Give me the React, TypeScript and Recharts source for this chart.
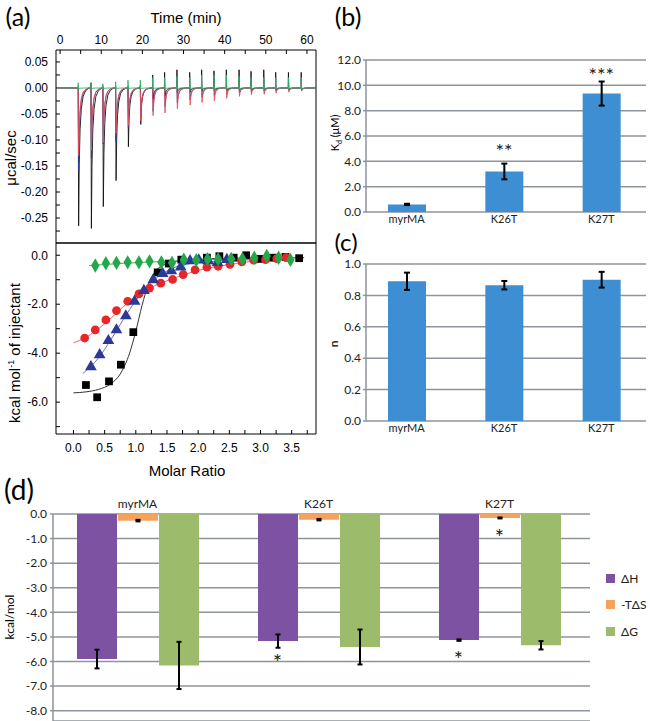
import React from 'react';
import {
  LineChart, Line, ComposedChart, Scatter, Bar, ErrorBar, XAxis, YAxis, ZAxis,
  CartesianGrid, Legend,
} from 'recharts';

// ---------- (a) top: raw ITC thermograms ----------
const injTimes = [4.4, 7.5, 10.4, 13.5, 16.5, 19.5, 22.5, 25.4, 28.4, 31.5, 34.4, 37.4, 40.4, 43.5, 46.4, 49.5, 52.4, 55.5, 58.6];
const myrUp = [0.003, 0.01, 0.003, 0.003, 0.003, 0.005, 0.025, 0.03, 0.035, 0.03, 0.035, 0.033, 0.035, 0.035, 0.032, 0.035, 0.03, 0.03, 0.03];
const myrDip = [-0.265, -0.27, -0.228, -0.178, -0.113, -0.07, -0.022, -0.015, -0.01, -0.008, -0.006, -0.005, -0.005, -0.004, -0.004, -0.003, -0.003, -0.003, -0.003];
const k26Up = [0.002, 0.002, 0.002, 0.002, 0.002, 0.002, 0.002, 0.002, 0.002, 0.002, 0.002, 0.002, 0.002, 0.002, 0.002, 0.002, 0.002, 0.002, 0.002];
const k26Dip = [-0.16, -0.135, -0.108, -0.103, -0.077, -0.058, -0.045, -0.036, -0.029, -0.023, -0.018, -0.015, -0.012, -0.01, -0.008, -0.007, -0.006, -0.005, -0.005];
const k27Up = [0.002, 0.002, 0.002, 0.002, 0.002, 0.002, 0.002, 0.002, 0.002, 0.002, 0.002, 0.002, 0.002, 0.002, 0.002, 0.002, 0.002, 0.002, 0.002];
const k27Dip = [-0.13, -0.12, -0.105, -0.087, -0.072, -0.063, -0.053, -0.048, -0.04, -0.033, -0.028, -0.025, -0.02, -0.016, -0.013, -0.012, -0.01, -0.008, -0.006];
const ctrlUp = [0.01, 0.01, 0.008, 0.012, 0.015, 0.015, 0.02, 0.02, 0.022, 0.02, 0.025, 0.025, 0.025, 0.022, 0.02, 0.02, 0.02, 0.02, 0.02];
const ctrlDip = [-0.002, -0.002, -0.002, -0.002, -0.002, -0.002, -0.002, -0.002, -0.002, -0.002, -0.002, -0.002, -0.002, -0.002, -0.002, -0.002, -0.002, -0.002, -0.002];

// shape of one injection peak: [minutes after injection, share of spike, share of dip]
const peakShape = [[-0.05, 0, 0], [0, 1, 0], [0.1, 0, 1], [0.25, 0, 0.55], [0.45, 0, 0.3], [0.75, 0, 0.15], [1.2, 0, 0.06], [1.8, 0, 0.02], [2.6, 0, 0]];

function trace(up: number[], dip: number[]) {
  const pts = [{ t: 0, v: 0 }];
  injTimes.forEach((t0, i) => {
    peakShape.forEach(([dt, fu, fd]) => pts.push({ t: t0 + dt, v: up[i] * fu + dip[i] * fd }));
  });
  pts.push({ t: 62, v: 0 });
  return pts;
}

const timeTicks = [0, 5, 10, 15, 20, 25, 30, 35, 40, 45, 50, 55, 60];
const rawTicks = [-0.275, -0.25, -0.225, -0.2, -0.175, -0.15, -0.125, -0.1, -0.075, -0.05, -0.025, 0, 0.025, 0.05];

// ---------- (a) bottom: integrated heats ----------
const myrHeat = [[0.2, -5.3], [0.38, -5.8], [0.57, -5.15], [0.76, -4.47], [0.96, -3.14], [1.35, -0.7], [1.53, -0.34], [1.73, -0.18], [2.14, -0.1], [2.34, -0.04], [2.57, -0.1], [2.77, 0.0], [2.98, -0.15], [3.2, -0.1], [3.4, -0.07], [3.62, -0.12]];
const k27Heat = [[0.18, -3.38], [0.35, -3.05], [0.52, -2.64], [0.69, -2.26], [0.87, -1.88], [1.05, -1.58], [1.22, -1.34], [1.4, -1.14], [1.59, -0.99], [1.76, -0.79], [1.95, -0.6], [2.14, -0.49], [2.32, -0.45], [2.51, -0.37], [2.7, -0.27], [2.89, -0.2], [3.08, -0.18], [3.26, -0.14], [3.41, -0.1]];
const k26Heat = [[0.28, -4.56], [0.42, -4.07], [0.56, -3.49], [0.69, -3.05], [0.84, -2.48], [0.98, -1.88], [1.13, -1.44], [1.28, -1.0], [1.43, -0.75], [1.57, -0.64], [1.72, -0.48], [1.87, -0.23], [2.01, -0.2], [2.16, -0.23], [2.31, -0.3], [2.46, -0.18]];
const ctrlHeat = [[0.35, -0.42], [0.52, -0.33], [0.69, -0.31], [0.87, -0.29], [1.05, -0.29], [1.22, -0.25], [1.41, -0.29], [1.58, -0.31], [1.77, -0.18], [1.97, -0.2], [2.15, -0.16], [2.32, -0.16], [2.53, -0.15], [2.71, -0.15], [2.9, -0.1], [3.1, -0.03], [3.29, -0.1], [3.48, -0.19]];

const myrFit = [[0, -5.62], [0.2, -5.58], [0.4, -5.48], [0.6, -5.25], [0.75, -4.85], [0.9, -4.0], [1.0, -3.1], [1.1, -2.05], [1.2, -1.2], [1.3, -0.7], [1.45, -0.4], [1.6, -0.27], [1.9, -0.18], [2.4, -0.13], [3.0, -0.11], [3.7, -0.1]];
const k27Fit = [[0, -3.58], [0.2, -3.35], [0.5, -2.8], [0.8, -2.1], [1.0, -1.68], [1.3, -1.25], [1.6, -0.95], [2.0, -0.62], [2.4, -0.42], [2.8, -0.27], [3.2, -0.17], [3.5, -0.13]];
const k26Fit = [[0.15, -4.83], [0.4, -4.2], [0.6, -3.45], [0.8, -2.62], [1.0, -1.85], [1.2, -1.22], [1.4, -0.8], [1.6, -0.52], [1.9, -0.33], [2.3, -0.24], [2.8, -0.19], [3.4, -0.16]];
const ctrlFit = [[0.25, -0.42], [0.8, -0.33], [1.5, -0.25], [2.2, -0.18], [2.9, -0.13], [3.6, -0.1]];

const heatTicks = [-7, -6, -5, -4, -3, -2, -1, 0];
const molarTicks = [0, 0.25, 0.5, 0.75, 1, 1.25, 1.5, 1.75, 2, 2.25, 2.5, 2.75, 3, 3.25, 3.5, 3.75];

// ---------- (b), (c), (d) ----------
const groups = ['myrMA', 'K26T', 'K27T'];
const kdVals = [0.6, 3.2, 9.35];
const kdErr = [0.05, 0.62, 0.95];
const kdStars = ['', '**', '***'];
const kdStarPos = [null, 5.1, 11.1];
const kdTicks = [0, 2, 4, 6, 8, 10, 12];

const nVals = [0.89, 0.865, 0.9];
const nErr = [0.055, 0.027, 0.05];
const nTicks = [0, 0.2, 0.4, 0.6, 0.8, 1];

const energyNames = ['ΔH', '-TΔS', 'ΔG'];
const dH = [-5.9, -5.17, -5.13];
const dHErr = [0.38, 0.27, 0.03];
const tdS = [-0.27, -0.23, -0.16];
const tdSErr = [0.03, 0.03, 0.02];
const dG = [-6.16, -5.41, -5.34];
const dGErr = [0.96, 0.71, 0.17];
const dHStarPos = [null, -5.85, -5.74];
const tdSStarPos = [null, null, -0.77];
const energyTicks = [-8, -7, -6, -5, -4, -3, -2, -1, 0];

const pts = (arr: number[][]) => arr.map(([x, y]) => ({ x, y }));
const kdRows = groups.map((name, i) => ({ name, kd: kdVals[i], err: kdErr[i], star: kdStars[i], starPos: kdStarPos[i] }));
const nRows = groups.map((name, i) => ({ name, n: nVals[i], err: nErr[i] }));
const energyRows = groups.map((name, i) => ({
  name, dH: dH[i], dHErr: dHErr[i], tdS: tdS[i], tdSErr: tdSErr[i], dG: dG[i], dGErr: dGErr[i],
  dHStar: dHStarPos[i], tdSStar: tdSStarPos[i],
}));

const ORIGIN = '"Liberation Sans", Arial, sans-serif';
const EXCEL = 'Lato, "Open Sans", sans-serif';
const GRID = '#8d949c';
const BLUE = '#3d8ed3';

const originTick = { fontSize: 12, fill: '#000', fontFamily: ORIGIN };
const excelTick = { fontSize: 12, fill: '#222', fontFamily: EXCEL };

const Txt = ({ x, y, size, font, rot = 0, children }: any) => (
  <div style={{
    position: 'absolute', left: x, top: y, transform: `translate(-50%, -50%) rotate(${rot}deg)`,
    fontSize: size, fontFamily: font, whiteSpace: 'nowrap', lineHeight: 1, color: '#000',
  }}>{children}</div>
);

const starShape = (dx: number, size: number, text?: string) => (p: any) => {
  const label = text ?? p.payload?.star;
  if (!label || !Number.isFinite(p.cy)) return <g />;
  return (
    <text x={p.cx + dx} y={p.cy + size * 0.55} textAnchor="middle" fontSize={size} fontFamily={EXCEL} fill="#222" stroke="none">{label}</text>
  );
};

const f2 = (v: number) => (Math.round(v * 1000) % 50 === 0 ? v.toFixed(2) : '');
const tenOnly = (v: number) => (v % 10 === 0 ? String(v) : '');
const evenHeat = (v: number) => (v % 2 === 0 ? v.toFixed(1) : '');
const halfMolar = (v: number) => (Math.round(v * 100) % 50 === 0 ? v.toFixed(1) : '');
const f1 = (v: number) => v.toFixed(1);

const energyLegend = (props: any) => {
  const items = (props.payload || [])
    .filter((e: any) => energyNames.includes(e.value))
    .sort((a: any, b: any) => energyNames.indexOf(a.value) - energyNames.indexOf(b.value));
  return (
    <div style={{ paddingLeft: 16 }}>
      {items.map((e: any) => (
        <div key={e.value} style={{ display: 'flex', alignItems: 'center', height: 26.5, fontFamily: EXCEL, fontSize: 12, color: '#222' }}>
          <span style={{ display: 'inline-block', width: 9, height: 9, background: e.color, marginRight: 6 }} />
          {e.value}
        </div>
      ))}
    </div>
  );
};

export default function App() {
  return (
    <div style={{ position: 'absolute', left: 0, top: 0, width: 650, height: 721, background: '#fff', overflow: 'hidden' }}>
      {/* (a) raw heat flow */}
      <div style={{ position: 'absolute', left: 0, top: 0 }}>
        <LineChart width={320} height={244} margin={{ top: 0, right: 0, bottom: 0, left: 0 }}>
          <XAxis xAxisId="t" orientation="top" type="number" dataKey="t" domain={[-1, 62.2]} allowDataOverflow ticks={timeTicks}
            tickFormatter={tenOnly} height={50} tickSize={-4} tickMargin={10} stroke="#000" tick={originTick} />
          <XAxis xAxisId="b" orientation="bottom" type="number" dataKey="t" domain={[-1, 62.2]} allowDataOverflow ticks={timeTicks}
            height={1} tickSize={-4} tick={false} stroke="#000" />
          <YAxis yAxisId="l" type="number" domain={[-0.298, 0.073]} allowDataOverflow ticks={rawTicks} tickFormatter={f2}
            width={56} tickSize={-4} tickMargin={12} stroke="#000" tick={originTick} />
          <YAxis yAxisId="r" orientation="right" type="number" domain={[-0.298, 0.073]} allowDataOverflow ticks={rawTicks}
            width={4} tickSize={-4} tick={false} stroke="#000" />
          <Line xAxisId="t" yAxisId="l" data={trace(myrUp, myrDip)} dataKey="v" type="linear" stroke="#111" strokeWidth={0.9} dot={false} isAnimationActive={false} />
          <Line xAxisId="t" yAxisId="l" data={trace(k26Up, k26Dip)} dataKey="v" type="linear" stroke="#2b3a9a" strokeWidth={0.9} dot={false} isAnimationActive={false} />
          <Line xAxisId="t" yAxisId="l" data={trace(k27Up, k27Dip)} dataKey="v" type="linear" stroke="#e8505c" strokeWidth={0.9} dot={false} isAnimationActive={false} />
          <Line xAxisId="t" yAxisId="l" data={trace(ctrlUp, ctrlDip)} dataKey="v" type="linear" stroke="#2fb36b" strokeWidth={0.9} dot={false} isAnimationActive={false} />
        </LineChart>
      </div>

      {/* (a) integrated heats */}
      <div style={{ position: 'absolute', left: 0, top: 242 }}>
        <ComposedChart width={320} height={220} margin={{ top: 0, right: 0, bottom: 0, left: 0 }}>
          <XAxis xAxisId="m" type="number" dataKey="x" domain={[-0.28, 3.89]} allowDataOverflow ticks={molarTicks}
            tickFormatter={halfMolar} height={28} tickSize={-4} tickMargin={13} stroke="#000" tick={originTick} />
          <XAxis xAxisId="top" orientation="top" type="number" dataKey="x" domain={[-0.28, 3.89]} allowDataOverflow
            height={1} tickLine={false} tick={false} stroke="#000" />
          <YAxis yAxisId="h" type="number" dataKey="y" domain={[-7.3, 0.5]} allowDataOverflow ticks={heatTicks}
            tickFormatter={evenHeat} width={56} tickSize={-4} tickMargin={12} stroke="#000" tick={originTick} />
          <YAxis yAxisId="hr" orientation="right" type="number" domain={[-7.3, 0.5]} allowDataOverflow ticks={heatTicks}
            width={4} tickSize={-4} tick={false} stroke="#000" />
          <ZAxis range={[60, 60]} />
          <Line xAxisId="m" yAxisId="h" data={pts(myrFit)} dataKey="y" type="monotone" stroke="#333" strokeWidth={1} dot={false} isAnimationActive={false} />
          <Line xAxisId="m" yAxisId="h" data={pts(k27Fit)} dataKey="y" type="monotone" stroke="#f06a6a" strokeWidth={1} dot={false} isAnimationActive={false} />
          <Line xAxisId="m" yAxisId="h" data={pts(k26Fit)} dataKey="y" type="monotone" stroke="#6f6fb8" strokeWidth={1} dot={false} isAnimationActive={false} />
          <Line xAxisId="m" yAxisId="h" data={pts(ctrlFit)} dataKey="y" type="monotone" stroke="#3cb35e" strokeWidth={1} dot={false} isAnimationActive={false} />
          <Scatter xAxisId="m" yAxisId="h" data={pts(myrHeat)} shape="square" fill="#000" isAnimationActive={false} />
          <Scatter xAxisId="m" yAxisId="h" data={pts(k27Heat)} shape="circle" fill="#e8262a" isAnimationActive={false} />
          <Scatter xAxisId="m" yAxisId="h" data={pts(k26Heat)} shape="triangle" fill="#2a3a96" isAnimationActive={false} />
          <Scatter xAxisId="m" yAxisId="h" data={pts(ctrlHeat)} shape="diamond" fill="#22a84a" isAnimationActive={false} />
        </ComposedChart>
      </div>

      {/* (b) Kd */}
      <div style={{ position: 'absolute', left: 330, top: 50 }}>
        <ComposedChart width={320} height={180} data={kdRows} margin={{ top: 10, right: 4, bottom: 0, left: 0 }}>
          <CartesianGrid vertical={false} stroke={GRID} strokeWidth={1.5} />
          <XAxis dataKey="name" height={18} axisLine={false} tickLine={false} tickSize={0} tickMargin={3}
            padding={{ left: -8, right: -4 }} tick={{ ...excelTick, fontSize: 11 }} />
          <YAxis domain={[0, 12]} ticks={kdTicks} width={36} tickFormatter={f1} stroke={GRID} strokeWidth={1.5}
            tickSize={3} tickMargin={2} tick={excelTick} />
          <Bar dataKey="kd" fill={BLUE} barSize={38} isAnimationActive={false}>
            <ErrorBar dataKey="err" width={3} strokeWidth={2} stroke="#000" />
          </Bar>
          <Scatter dataKey="starPos" shape={starShape(0, 20)} isAnimationActive={false} />
        </ComposedChart>
      </div>

      {/* (c) stoichiometry */}
      <div style={{ position: 'absolute', left: 330, top: 254 }}>
        <ComposedChart width={320} height={185} data={nRows} margin={{ top: 10, right: 4, bottom: 0, left: 0 }}>
          <CartesianGrid vertical={false} stroke={GRID} strokeWidth={1.5} />
          <XAxis dataKey="name" height={18} axisLine={false} tickLine={false} tickSize={0} tickMargin={3}
            padding={{ left: -8, right: -4 }} tick={{ ...excelTick, fontSize: 11 }} />
          <YAxis domain={[0, 1]} ticks={nTicks} width={36} tickFormatter={f1} stroke={GRID} strokeWidth={1.5}
            tickSize={3} tickMargin={2} tick={excelTick} />
          <Bar dataKey="n" fill={BLUE} barSize={38} isAnimationActive={false}>
            <ErrorBar dataKey="err" width={3} strokeWidth={2} stroke="#000" />
          </Bar>
        </ComposedChart>
      </div>

      {/* (d) thermodynamic signature */}
      <div style={{ position: 'absolute', left: 0, top: 490 }}>
        <ComposedChart width={650} height={231} data={energyRows} margin={{ top: 0, right: 0, bottom: 0, left: 0 }} barGap={1}>
          <CartesianGrid vertical={false} stroke={GRID} strokeWidth={1.5} />
          <XAxis dataKey="name" orientation="top" height={24} axisLine={false} tickLine={false} tickSize={0} tickMargin={6}
            padding={{ left: -6, right: 0 }} tick={excelTick} />
          <YAxis domain={[-8.42, 0]} allowDataOverflow ticks={energyTicks} width={53} tickFormatter={f1} stroke={GRID} strokeWidth={1.5}
            tickSize={3} tickMargin={3} tick={excelTick} />
          <Legend layout="vertical" align="right" verticalAlign="top" width={60} wrapperStyle={{ left: 590, top: 75 }} content={energyLegend} />
          <Bar name={energyNames[0]} dataKey="dH" fill="#7e52a3" barSize={40} isAnimationActive={false}>
            <ErrorBar dataKey="dHErr" width={2.5} strokeWidth={2} stroke="#000" />
          </Bar>
          <Bar name={energyNames[1]} dataKey="tdS" fill="#f5a25f" barSize={40} isAnimationActive={false}>
            <ErrorBar dataKey="tdSErr" width={2.5} strokeWidth={2} stroke="#000" />
          </Bar>
          <Bar name={energyNames[2]} dataKey="dG" fill="#9cbc6c" barSize={40} isAnimationActive={false}>
            <ErrorBar dataKey="dGErr" width={2.5} strokeWidth={2} stroke="#000" />
          </Bar>
          <Scatter dataKey="dHStar" legendType="none" shape={starShape(-41, 22, '*')} isAnimationActive={false} />
          <Scatter dataKey="tdSStar" legendType="none" shape={starShape(0, 22, '*')} isAnimationActive={false} />
        </ComposedChart>
      </div>

      {/* panel letters and axis titles */}
      <Txt x={18} y={16} size={25} font={EXCEL}>(a)</Txt>
      <Txt x={186} y={17} size={15} font={ORIGIN}>Time (min)</Txt>
      <Txt x={10} y={158} size={15} font={ORIGIN} rot={-90}>μcal/sec</Txt>
      <Txt x={14} y={353} size={15} font={ORIGIN} rot={-90}>kcal mol<sup style={{ fontSize: 9 }}>-1</sup> of injectant</Txt>
      <Txt x={187} y={470} size={15} font={ORIGIN}>Molar Ratio</Txt>
      <Txt x={348} y={16} size={25} font={EXCEL}>(b)</Txt>
      <Txt x={336} y={133} size={11} font={EXCEL} rot={-90}>K<sub style={{ fontSize: 7 }}>d</sub> (μM)</Txt>
      <Txt x={346} y={242} size={24} font={EXCEL}>(c)</Txt>
      <Txt x={334} y={344} size={12} font={EXCEL} rot={-90}>n</Txt>
      <Txt x={19} y={489} size={28} font={EXCEL}>(d)</Txt>
      <Txt x={10} y={617} size={12} font={EXCEL} rot={-90}>kcal/mol</Txt>
    </div>
  );
}
